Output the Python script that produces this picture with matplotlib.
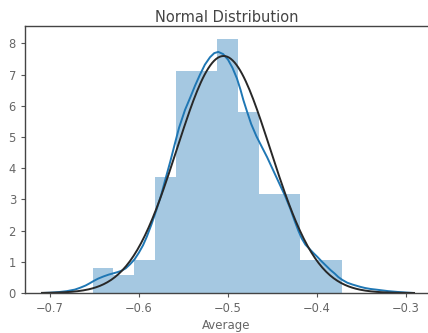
import numpy as np
import matplotlib
matplotlib.use("Agg")
import matplotlib.pyplot as plt

# ---- data ----
hist_range = (-0.652, -0.372)          # data min / max (histogram span)
hist_density = [0.79, 0.57, 1.06, 3.71, 7.12, 7.12, 8.14, 5.80, 3.16, 3.16, 1.07, 1.07]

kde_x = [-0.709, -0.700, -0.690, -0.681, -0.672, -0.666, -0.660, -0.6555, -0.6513,
         -0.646, -0.640, -0.634, -0.6289, -0.624, -0.620, -0.615, -0.6101,
         -0.605, -0.600, -0.5955, -0.5913, -0.586, -0.580, -0.575, -0.5708,
         -0.565, -0.5596, -0.555, -0.5483, -0.5427, -0.537, -0.5315, -0.526,
         -0.5202, -0.5155, -0.5109, -0.5055, -0.5000, -0.4950, -0.4900, -0.4860,
         -0.4828, -0.4790, -0.4740, -0.4680, -0.4621, -0.4560, -0.4500, -0.4430,
         -0.4360, -0.4300, -0.4250, -0.4210, -0.4172, -0.4130, -0.4080, -0.4040,
         -0.3997, -0.3950, -0.3900, -0.3850, -0.3800, -0.3760, -0.3716, -0.3660,
         -0.3600, -0.3517, -0.3460, -0.3400, -0.3340, -0.3284, -0.3200, -0.3100,
         -0.3000, -0.291]
kde_y = [0.00, 0.01, 0.03, 0.06, 0.11, 0.17, 0.24, 0.31, 0.38,
         0.46, 0.53, 0.59, 0.63, 0.67, 0.71, 0.79, 0.92,
         1.08, 1.30, 1.53, 1.80, 2.20, 2.70, 3.15, 3.60,
         4.20, 4.80, 5.30, 5.87, 6.25, 6.65, 7.00, 7.32,
         7.56, 7.69, 7.73, 7.66, 7.48, 7.22, 6.88, 6.52,
         6.19, 5.85, 5.42, 5.02, 4.69, 4.35, 3.98, 3.55,
         3.12, 2.70, 2.30, 2.00, 1.75, 1.55, 1.40, 1.28,
         1.16, 1.02, 0.88, 0.74, 0.62, 0.51, 0.42, 0.33,
         0.27, 0.20, 0.16, 0.13, 0.11, 0.09, 0.06, 0.035,
         0.015, 0.00]

fit_mean = -0.505
fit_std = 0.0525
fit_span = (-0.709, -0.291)

x_ticks = [-0.7, -0.6, -0.5, -0.4, -0.3]
y_ticks = [0, 1, 2, 3, 4, 5, 6, 7, 8]
title = "Normal Distribution"
xlabel = "Average"

# ---- figure ----
fig = plt.figure(figsize=(4.28, 3.33), dpi=100)
ax = fig.add_axes([25 / 428, 40 / 333, 1 - 25 / 428, (293 - 26) / 333])

edges = np.linspace(hist_range[0], hist_range[1], len(hist_density) + 1)
ax.bar(edges[:-1], hist_density, width=np.diff(edges), align="edge",
       color="#1f77b4", alpha=0.4, linewidth=0)

ax.plot(kde_x, kde_y, color="#1f77b4", lw=1.4, solid_joinstyle="round")

fx = np.linspace(fit_span[0], fit_span[1], 200)
fy = np.exp(-0.5 * ((fx - fit_mean) / fit_std) ** 2) / (fit_std * np.sqrt(2 * np.pi))
ax.plot(fx, fy, color="#282828", lw=1.4)

ax.set_xlim(-0.7281, -0.2753)
ax.set_ylim(0, 8.56)
ax.set_xticks(x_ticks)
ax.set_yticks(y_ticks)
ax.set_xticklabels(["\u2212" + f"{abs(t):.1f}" for t in x_ticks])
ax.tick_params(labelsize=8.3, colors="#555555", length=3, width=0.8)
ax.tick_params(axis="both", labelcolor="#666666")
for s in ["left", "bottom", "top"]:
    ax.spines[s].set_color("#444444")
    ax.spines[s].set_linewidth(1.0)
ax.spines["right"].set_visible(False)
ax.set_title(title, fontsize=10.5, color="#444444", pad=3)
ax.set_xlabel(xlabel, fontsize=8.5, color="#666666", labelpad=3)

fig.savefig("out.png", dpi=100)
